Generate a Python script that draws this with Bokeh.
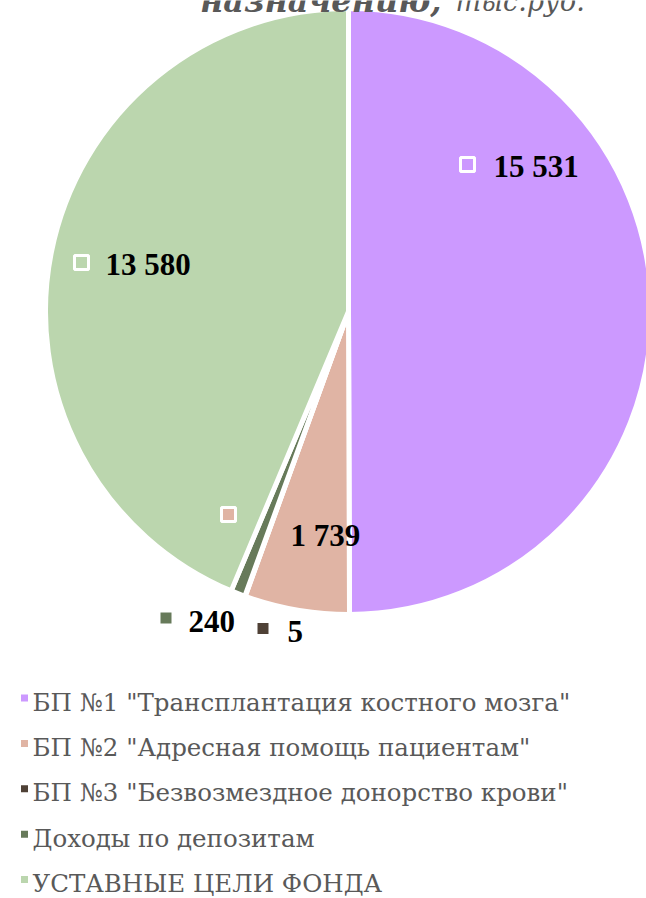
import numpy as np
from bokeh.plotting import figure
from bokeh.models import Range1d, ColumnDataSource
from bokeh.core.properties import value
from bokeh.embed import file_html
from bokeh.resources import INLINE

# ---- data ----
categories = [
    'БП №1 "Трансплантация костного мозга"',
    'БП №2 "Адресная помощь пациентам"',
    'БП №3 "Безвозмездное донорство крови"',
    'Доходы по депозитам',
    'УСТАВНЫЕ ЦЕЛИ ФОНДА',
]
values = [15531, 1739, 5, 240, 13580]
colors = ["#CC99FF", "#E0B4A4", "#4F4136", "#677A5A", "#BBD6AE"]
title_bold = "назначению,"
title_rest = "тыс.руб."

W, H = 646, 898

def fy(y):
    return H - y

p = figure(width=W, height=H, output_backend="svg", toolbar_location=None,
           x_range=Range1d(0, W), y_range=Range1d(0, H), min_border=0)
p.axis.visible = False
p.grid.visible = False
p.outline_line_color = None
p.background_fill_color = "white"
p.border_fill_color = "white"

# ---- pie ----
vals = np.array(values, dtype=float)
frac = vals / vals.sum()
cum = np.concatenate([[0], np.cumsum(frac)])
start = np.pi / 2 - 2 * np.pi * cum[1:]
end = np.pi / 2 - 2 * np.pi * cum[:-1]
cx, cy, R = 348, 311, 303
src = ColumnDataSource(dict(start=start, end=end, color=colors))
p.wedge(x=cx, y=fy(cy), radius=R, start_angle="start", end_angle="end",
        direction="anticlock", fill_color="color", line_color="white",
        line_width=5, source=src)

# ---- data labels ----
label_text = [f"{v:,}".replace(",", " ") for v in values]
lab_x = [493, 290, 287, 188, 105]
lab_y = [166, 535, 631, 621, 264]
key_x = [467, 228, 262.5, 165.5, 81]
key_y = [164, 514, 628, 617.5, 262]
p.rect(x=key_x, y=[fy(v) for v in key_y], width=14, height=14,
       fill_color=colors, line_color="white", line_width=3)
p.text(x=lab_x, y=[fy(v) for v in lab_y], text=label_text,
       text_font=value("Liberation Serif"), text_font_style="bold",
       text_font_size="31px", text_color="black",
       text_align="left", text_baseline="middle")

# ---- legend ----
leg_mid = [701.5 + 45.4 * i for i in range(len(categories))]
p.rect(x=[24] * len(categories), y=[fy(m - 4) for m in leg_mid],
       width=7, height=7, fill_color=colors, line_color=None)
p.text(x=[32] * len(categories), y=[fy(m) for m in leg_mid], text=categories,
       text_font=value("DejaVu Serif"), text_font_size="24.5px",
       text_color="#595959", text_align="left", text_baseline="middle")

# ---- title (its upper part lies above the visible area, as in the reference) ----
p.text(x=[441], y=[fy(0.5)], text=[title_bold], text_font=value("DejaVu Serif"),
       text_font_style="bold italic", text_font_size="32px", text_color="#595959",
       text_align="right", text_baseline="middle")
p.text(x=[455], y=[fy(0.5)], text=[title_rest], text_font=value("DejaVu Serif"),
       text_font_style="italic", text_font_size="27px", text_color="#595959",
       text_align="left", text_baseline="middle")

open("out.html", "w").write(file_html(p, INLINE))
